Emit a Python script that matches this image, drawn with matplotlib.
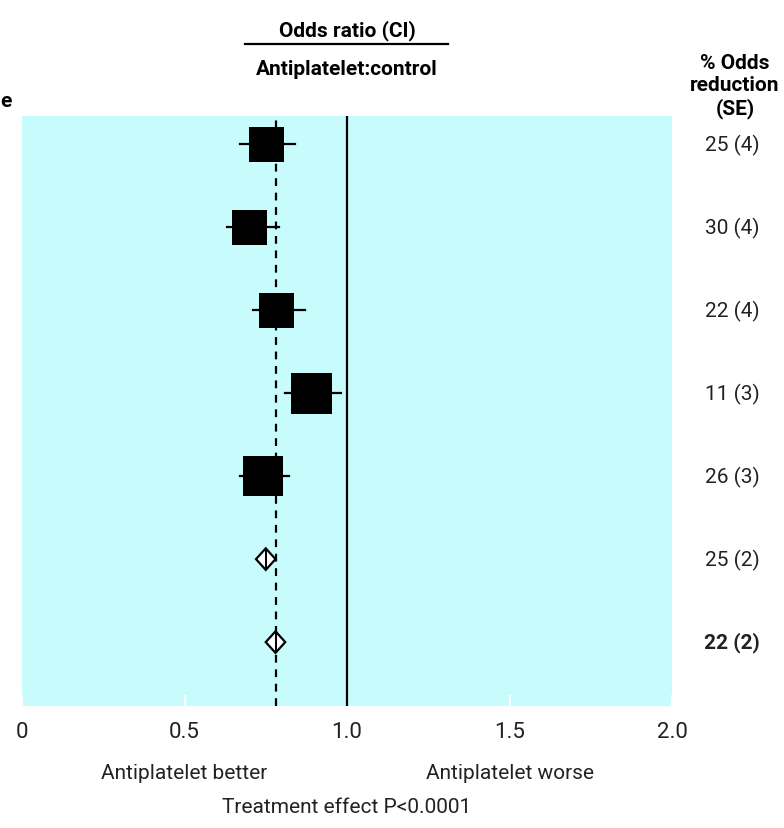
import numpy as np
import matplotlib
matplotlib.use("Agg")
import matplotlib.pyplot as plt

plt.rcParams.update({
    "font.family": ["Roboto", "DejaVu Sans"],
    "font.size": 15,
})

# rows top to bottom: 5 trial groups, subtotal, overall
odds_ratio = [0.75, 0.70, 0.78, 0.89, 0.74, 0.75, 0.78]
ci_low     = [0.67, 0.63, 0.71, 0.81, 0.67, 0.72, 0.75]
ci_high    = [0.84, 0.79, 0.87, 0.98, 0.82, 0.78, 0.81]
reduction  = ["25 (4)", "30 (4)", "22 (4)", "11 (3)", "26 (3)", "25 (2)", "22 (2)"]
is_summary = [False, False, False, False, False, True, True]
box_px     = [35, 35, 35, 41, 40, 0, 0]   # square side in pixels (weight)
overall_or = 0.78

xticks = [0, 0.5, 1.0, 1.5, 2.0]
xtick_labels = ["0", "0.5", "1.0", "1.5", "2.0"]

DPI = 100
fig = plt.figure(figsize=(7.84, 8.29), dpi=DPI)
ax = fig.add_axes([22 / 784, 122 / 829, 650 / 784, 590 / 829])
ax.set_facecolor("#c8fcfc")
for s in ax.spines.values():
    s.set_visible(False)

n = len(odds_ratio)
rows = np.arange(n)
ax.set_xlim(0, 2.0)
ax.set_ylim(n - 1 + 0.77, -0.34)

ax.axvline(1.0, color="black", lw=1.6, zorder=2)
ax.axvline(overall_or, color="black", lw=1.6, ls=(0, (3.5, 3)), zorder=2)

for i in rows:
    if not is_summary[i]:
        ax.plot([ci_low[i], ci_high[i]], [i, i], color="black", lw=1.6, zorder=3)
        side_pt = box_px[i] * 72 / DPI
        ax.scatter(odds_ratio[i], i, marker="s", s=side_pt ** 2,
                   color="black", linewidths=0, zorder=4)
    else:
        h = 0.13
        ax.fill([ci_low[i], odds_ratio[i], ci_high[i], odds_ratio[i]],
                [i, i - h, i, i + h], facecolor="white", edgecolor="black",
                lw=1.6, zorder=4)
        ax.plot([odds_ratio[i], odds_ratio[i]], [i - h * 0.85, i + h * 0.85],
                color="black", lw=1.4, zorder=5)
    ax.text(2.185, i, reduction[i], ha="center", va="center",
            fontsize=15, fontweight="bold" if i == n - 1 else "normal",
            color="#222222", clip_on=False)

ax.set_yticks([])
ax.set_xticks(xticks)
ax.set_xticklabels(xtick_labels, fontsize=16, color="#222222")
ax.tick_params(axis="x", direction="in", length=8, width=1.5,
               color="white", pad=11)

tr = ax.get_xaxis_transform()
ax.text(1.0, 1.147, "Odds ratio (CI)", transform=tr, ha="center", va="center",
        fontsize=15, fontweight="bold")
ax.plot([0.686, 1.311], [1.122, 1.122], transform=tr, color="black",
        lw=1.6, clip_on=False)
ax.text(1.0, 1.080, "Antiplatelet:control", transform=tr, ha="center",
        va="center", fontsize=15, fontweight="bold")
ax.text(2.194, 1.052, "% Odds\nreduction\n(SE)", transform=tr, ha="center",
        va="center", fontsize=15, fontweight="bold", linespacing=1.22)
ax.text(-0.034, 1.027, "e", transform=ax.transAxes, ha="left", va="center",
        fontsize=15, fontweight="bold")

ax.text(0.5, -0.112, "Antiplatelet better", transform=tr, ha="center",
        va="center", fontsize=15, color="#222222")
ax.text(1.5, -0.112, "Antiplatelet worse", transform=tr, ha="center",
        va="center", fontsize=15, color="#222222")
ax.text(1.0, -0.171, "Treatment effect P<0.0001", transform=tr, ha="center",
        va="center", fontsize=15, color="#222222")

fig.savefig("out.png", dpi=DPI)
